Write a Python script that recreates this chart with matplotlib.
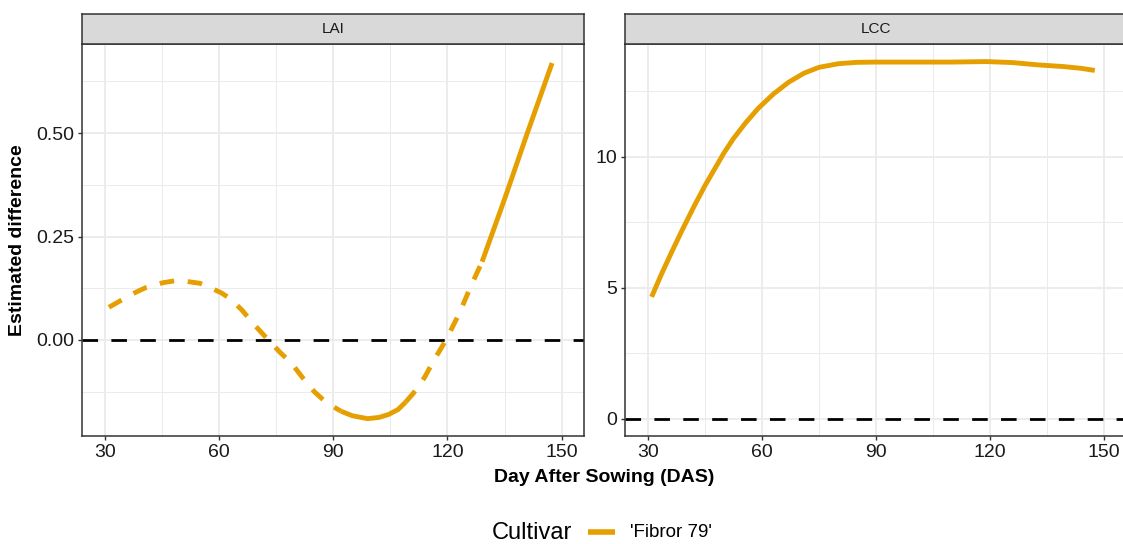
import matplotlib
matplotlib.use('Agg')
import matplotlib.pyplot as plt
from matplotlib.lines import Line2D

plt.rcParams['font.family'] = ['Liberation Sans', 'DejaVu Sans']

# ---------------- data ----------------
panels = ['LAI', 'LCC']
x_ticks = [30, 60, 90, 120, 150]
x_minor = [45, 75, 105, 135]
lai_yticks = [0.0, 0.25, 0.50]
lai_yminor = [-0.125, 0.125, 0.375, 0.625]
lcc_yticks = [0, 5, 10]
lcc_yminor = [2.5, 7.5, 12.5]

lai_das = [31, 35, 38, 40.8, 45, 48.3, 51, 54.9, 58, 60.5, 62.9, 66, 68.9, 72.9,
           76, 79, 82, 85, 88, 92, 95, 99, 102, 104.5, 107, 109, 111, 114, 116,
           119.6, 123.1, 126.1, 129.1, 135, 141, 147.5]
lai_diff = [0.079, 0.100, 0.115, 0.127, 0.138, 0.143, 0.142, 0.137, 0.125, 0.114,
            0.100, 0.072, 0.040, 0.000, -0.030, -0.056, -0.092, -0.125, -0.150,
            -0.172, -0.183, -0.190, -0.187, -0.180, -0.168, -0.150, -0.129, -0.090,
            -0.056, 0.000, 0.064, 0.129, 0.189, 0.340, 0.500, 0.669]
lai_signif = [False] * 19 + [True] * 6 + [False] * 7 + [True] * 4

lcc_das = [31, 33.5, 36.2, 39, 42.1, 45, 47.8, 50, 52.5, 55.7, 59, 63, 67, 71.1,
           75, 80.2, 85, 90, 100, 110, 119, 126, 132.8, 139.2, 144, 147.5]
lcc_diff = [4.66, 5.50, 6.35, 7.20, 8.10, 8.90, 9.60, 10.15, 10.70, 11.30, 11.85,
            12.40, 12.85, 13.20, 13.42, 13.56, 13.61, 13.62, 13.62, 13.62, 13.64,
            13.60, 13.51, 13.45, 13.38, 13.30]

cultivar = "'Fibror 79'"
legend_title = 'Cultivar'
x_title = 'Day After Sowing (DAS)'
y_title = 'Estimated difference'

line_color = '#E69F00'
grid_color = '#EBEBEB'
border_color = '#333333'

# ---------------- figure ----------------
W, H = 1123, 544
fig = plt.figure(figsize=(W / 100, H / 100), dpi=100)


def fx(px):
    return px / W


def fy(py):
    return 1 - py / H


pw = (584.4 - 82.3) / W
ph = (436 - 44) / H
ax_l = fig.add_axes([fx(82.3), fy(436), pw, ph])
ax_r = fig.add_axes([fx(625), fy(436), pw, ph])

line_lw = 3.5
dash_style = (0, (3.0, 2.8))
zero_style = (0, (5.6, 4.8))

for ax, name, yt, ym, ylim in [
        (ax_l, panels[0], lai_yticks, lai_yminor, (-0.2319, 0.715)),
        (ax_r, panels[1], lcc_yticks, lcc_yminor, (-0.649, 14.31))]:
    ax.set_xlim(24, 156)
    ax.set_ylim(*ylim)
    ax.set_xticks(x_ticks)
    ax.set_xticks(x_minor, minor=True)
    ax.set_yticks(yt)
    ax.set_yticks(ym, minor=True)
    ax.grid(True, which='major', color=grid_color, lw=1.3, zorder=0)
    ax.grid(True, which='minor', color=grid_color, lw=0.7, zorder=0)
    ax.set_axisbelow(True)
    ax.tick_params(which='minor', length=0)
    ax.tick_params(which='major', length=3.2, width=1.0, color=border_color,
                   labelsize=14, labelcolor='#1a1a1a', pad=2.5)
    for s in ax.spines.values():
        s.set_color(border_color)
        s.set_linewidth(1.1)
    ax.axhline(0, color='black', lw=2.0, linestyle=zero_style, zorder=2)
    # strip
    pos = ax.get_position()
    sax = fig.add_axes([pos.x0, fy(44), pos.width, 30 / H])
    sax.set_xticks([])
    sax.set_yticks([])
    sax.set_facecolor('#D9D9D9')
    for s in sax.spines.values():
        s.set_color(border_color)
        s.set_linewidth(1.1)
    sax.text(0.5, 0.5, name, ha='center', va='center', fontsize=11,
             color='#1a1a1a', transform=sax.transAxes)

ax_l.set_yticklabels(['0.00', '0.25', '0.50'])
ax_r.set_yticklabels(['0', '5', '10'])

# LAI line split into runs by significance (solid = significant, dashed = not)
runs = []
start = 0
n = len(lai_das)
for i in range(1, n):
    if lai_signif[i] != lai_signif[start]:
        runs.append((start, i + 1, lai_signif[start]))
        start = i
runs.append((start, n, lai_signif[start]))
for a, b, sig in runs:
    ax_l.plot(lai_das[a:b], lai_diff[a:b], color=line_color, lw=line_lw,
              linestyle='-' if sig else dash_style,
              solid_capstyle='butt', dash_capstyle='butt', zorder=3)

ax_r.plot(lcc_das, lcc_diff, color=line_color, lw=line_lw,
          solid_capstyle='butt', zorder=3)

# axis titles
fig.text(fx(604), fy(478), x_title, ha='center', va='center',
         fontsize=14, fontweight='bold')
fig.text(fx(18), fy(240), y_title, ha='center', va='center', rotation=90,
         fontsize=14, fontweight='bold')

# legend
fig.text(fx(492), fy(539), legend_title, ha='left', va='baseline', fontsize=17)
fig.add_artist(Line2D([fx(588), fx(615)], [fy(532), fy(532)], color=line_color,
                      lw=4, solid_capstyle='butt', transform=fig.transFigure))
fig.text(fx(630), fy(537), cultivar, ha='left', va='baseline', fontsize=13.5)

fig.savefig('out.png', dpi=100)
